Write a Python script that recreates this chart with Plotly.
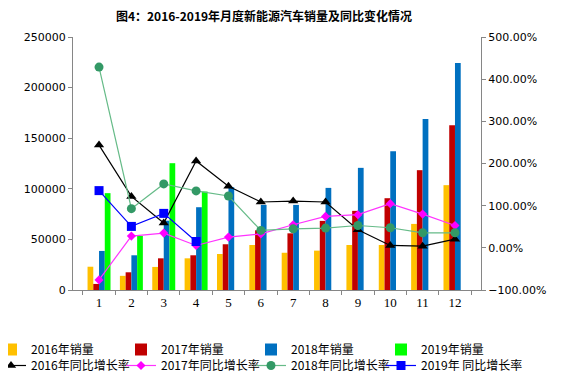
import plotly.graph_objects as go

months = [str(i) for i in range(1, 13)]

sales_2016 = [23000, 14000, 22800, 31300, 35600, 44500, 36800, 38900, 44500, 44500, 65300, 103600]
sales_2017 = [6000, 17500, 31300, 34300, 45200, 59000, 56000, 68300, 78200, 90700, 118400, 162900]
sales_2018 = [38600, 34300, 68500, 81800, 101600, 84100, 84100, 100900, 120700, 137200, 168900, 224300]
sales_2019 = [95700, 53400, 125300, 97300]

growth_2016 = [2.437, 1.22, 0.587, 2.06, 1.46, 1.087, 1.11, 1.087, 0.429, 0.056, 0.04, 0.206]
growth_2017 = [-0.76, 0.278, 0.35, 0.056, 0.254, 0.33, 0.548, 0.746, 0.786, 1.048, 0.80, 0.53]
growth_2018 = [4.286, 0.929, 1.516, 1.35, 1.23, 0.413, 0.45, 0.468, 0.53, 0.476, 0.357, 0.357]
growth_2019 = [1.357, 0.508, 0.817, 0.15]

title_text = "图4：2016-2019年月度新能源汽车销量及同比变化情况"

cjk = "Noto Sans CJK SC"

# page is offset by the 8px default body margin
OFF = 8
ML, MT, PW, PH = 73 - OFF, 37 - OFF, 408, 253
W, H = 567, 382

fig = go.Figure()
bar_specs = [
    ("2016年销量", sales_2016, "#FFC000"),
    ("2017年销量", sales_2017, "#C00000"),
    ("2018年销量", sales_2018, "#0070C0"),
    ("2019年销量", sales_2019, "#00FF00"),
]
for i, (name, vals, color) in enumerate(bar_specs):
    lid = "legend" if i == 0 else f"legend{i + 1}"
    fig.add_trace(go.Bar(x=months[:len(vals)], y=vals, name=name, legend=lid,
                         marker=dict(color=color, line=dict(width=0)), yaxis="y"))

line_specs = [
    ("2016年同比增长率", growth_2016, "#000000", "#000000", "triangle-up", 9),
    ("2017年同比增长率", growth_2017, "#FF33FF", "#FF00FF", "diamond", 7),
    ("2018年同比增长率", growth_2018, "#66BB88", "#339966", "circle", 9),
    ("2019年 同比增长率", growth_2019, "#0000FF", "#0000FF", "square", 9),
]
for i, (name, vals, lc, mc, sym, sz) in enumerate(line_specs):
    fig.add_trace(go.Scatter(x=months[:len(vals)], y=vals, name=name, mode="lines+markers",
                             legend=f"legend{i + 5}",
                             line=dict(color=lc, width=1.2),
                             marker=dict(color=mc, symbol=sym, size=sz),
                             yaxis="y2"))

text_starts = [32, 162, 292, 422]
row_ys = [348, 364]
legends = {}
k = 1
for ry in row_ys:
    for ts in text_starts:
        left = ts - OFF - 41
        top = ry - OFF - 13
        lid = "legend" if k == 1 else f"legend{k}"
        legends[lid] = dict(orientation="v", x=(left - ML) / PW, xanchor="left",
                            y=(MT + PH - top) / PH, yanchor="top", itemwidth=30,
                            font=dict(family=cjk, size=12), tracegroupgap=0,
                            bgcolor="rgba(0,0,0,0)")
        k += 1

fig.update_layout(
    width=W, height=H,
    margin=dict(l=ML, r=W - ML - PW, t=MT, b=H - MT - PH, autoexpand=False),
    paper_bgcolor="white", plot_bgcolor="white",
    barmode="group", bargap=0.29, bargroupgap=0,
    title=dict(text=title_text, x=(264 - OFF) / W, xanchor="center", y=1 - (17 - OFF) / H,
               yanchor="middle",
               font=dict(family=cjk, size=12, color="black", weight="bold")),
    font=dict(family=cjk, size=11, color="black"),
    xaxis=dict(type="category", showline=True, linecolor="#868686", linewidth=1,
               ticks="outside", tickson="boundaries", ticklen=4, tickcolor="#868686",
               tickfont=dict(family="Liberation Serif", size=13), showgrid=False),
    yaxis=dict(range=[0, 250000], dtick=50000, tickformat="d", showline=True,
               linecolor="#868686", ticks="outside", ticklen=4, tickcolor="#868686",
               showgrid=False, zeroline=False, tickfont=dict(family="DejaVu Sans", size=11)),
    yaxis2=dict(range=[-1, 5], dtick=1, tickformat=".2%", overlaying="y", side="right",
                showline=True, linecolor="#868686", ticks="outside", ticklen=4,
                tickcolor="#868686", showgrid=False, zeroline=False,
                tickfont=dict(family="DejaVu Sans", size=11)),
    showlegend=True,
    **legends,
)

fig.write_html("out.html")
